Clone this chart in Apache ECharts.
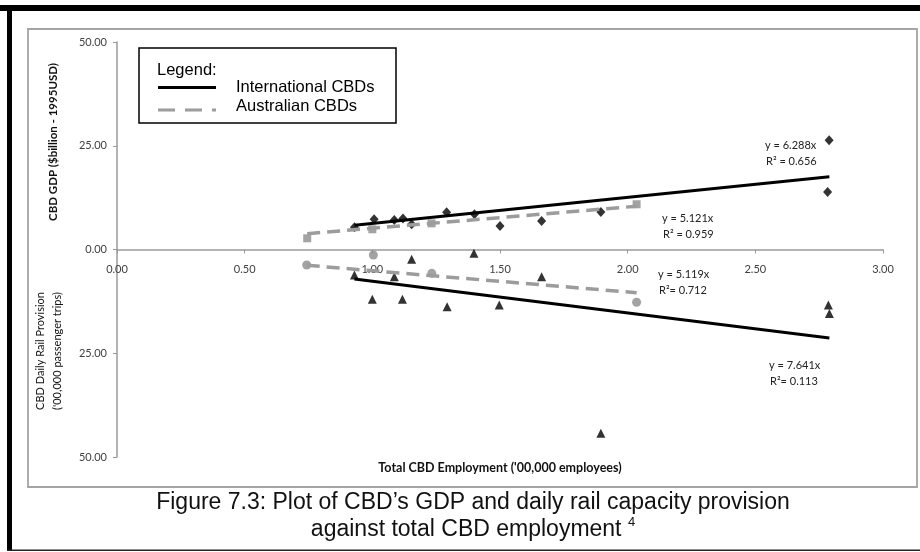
<!DOCTYPE html>
<html><head><meta charset="utf-8">
<script src="https://cdn.jsdelivr.net/npm/echarts@6/dist/echarts.min.js"></script>
<style>html,body{margin:0;padding:0;background:#fff}#c{width:920px;height:552px}</style>
</head><body><div id="c"></div>
<script>
// ---- data ----
const xTicks = [0, 0.5, 1, 1.5, 2, 2.5, 3];
const yTicks = [-50, -25, 0, 25, 50];
// upper half: CBD GDP ($billion), lower half: daily rail provision (plotted downward)
const intlGdp = [[0.93,5.35],[1.007,7.3],[1.086,7.1],[1.12,7.5],[1.154,6.1],[1.291,8.96],[1.40,8.5],[1.50,5.66],[1.663,6.87],[1.895,9.04],[2.789,26.3],[2.783,13.86]];
const ausGdp = [[0.745,2.7],[1.0,4.87],[1.232,6.3],[2.035,10.9]];
const intlRail = [[0.93,-6.14],[1.0,-12.0],[1.086,-6.55],[1.118,-12.0],[1.154,-2.37],[1.293,-13.8],[1.398,-0.9],[1.497,-13.4],[1.663,-6.55],[1.895,-44.3],[2.786,-13.4],[2.79,-15.4]];
const ausRail = [[0.743,-3.73],[1.004,-1.33],[1.233,-5.74],[2.035,-12.7]];
// trend line end points
const intlGdpTrend = [[0.93,5.85],[2.79,17.54]];
const ausGdpTrend = [[0.745,3.82],[2.035,10.42]];
const intlRailTrend = [[0.93,-7.11],[2.79,-21.32]];
const ausRailTrend = [[0.743,-3.80],[2.035,-10.42]];
const trendLabels = [
  ['y = 6.288x', 'R\u00b2 = 0.656'],
  ['y = 5.121x', 'R\u00b2 = 0.959'],
  ['y = 5.119x', 'R\u00b2= 0.712'],
  ['y = 7.641x', 'R\u00b2= 0.113']
];
const legendNames = ['International CBDs', 'Australian CBDs'];

const chart = echarts.init(document.getElementById('c'), null, {renderer:'canvas'});
const SMALL = 'Lato, "Open Sans", sans-serif';
const ARIAL = '"Liberation Sans", Arial, sans-serif';
const gray = '#8c8c8c';
const dashGray = '#9c9c9c';

const GRID_TOP = 42, GRID_BOTTOM = 95, H = 552;
// x axis sits at y = 0 (middle of the -50..50 range)
const plotH = H - GRID_TOP - GRID_BOTTOM;
const xAxisOffset = -plotH / 2;

const annPos = [[765,145],[662,218],[658,274],[769,365]];
const annGraphics = [];
trendLabels.forEach((t,i)=>{
  annGraphics.push({type:'text', x:annPos[i][0], y:annPos[i][1], style:{text:t[0], font:'11px '+SMALL, fill:'#222', verticalAlign:'middle'}});
  annGraphics.push({type:'text', x:annPos[i][0]+1, y:annPos[i][1]+16, style:{text:t[1], font:'11px '+SMALL, fill:'#222', verticalAlign:'middle'}});
});

const option = {
  backgroundColor:'#fff',
  animation:false,
  grid:{left:117, right:37, top:GRID_TOP, bottom:GRID_BOTTOM, containLabel:false},
  xAxis:{
    type:'value', min:xTicks[0], max:xTicks[xTicks.length-1], interval:0.5,
    offset:xAxisOffset,
    axisLine:{onZero:false, lineStyle:{color:'#9a9a9a', width:1.5}},
    axisTick:{show:true, length:4, lineStyle:{color:'#9a9a9a'}},
    splitLine:{show:false},
    axisLabel:{formatter:v=>v.toFixed(2), color:'#404040', fontFamily:SMALL, fontSize:11, margin:14}
  },
  yAxis:{
    type:'value', min:yTicks[0], max:yTicks[yTicks.length-1], interval:25,
    axisLine:{show:true, onZero:false, lineStyle:{color:'#9a9a9a', width:1.5}},
    axisTick:{show:true, length:4, lineStyle:{color:'#9a9a9a'}},
    splitLine:{show:false},
    axisLabel:{formatter:v=>Math.abs(v).toFixed(2), color:'#404040', fontFamily:SMALL, fontSize:11, margin:10}
  },
  series:[
    {type:'scatter', data:intlGdp, symbol:'diamond', symbolSize:[9,10], itemStyle:{color:'#000'}, z:3},
    {type:'scatter', data:ausGdp, symbol:'rect', symbolSize:8, itemStyle:{color:gray}, z:3},
    {type:'scatter', data:intlRail, symbol:'triangle', symbolSize:9, itemStyle:{color:'#000'}, z:3},
    {type:'scatter', data:ausRail, symbol:'circle', symbolSize:9, itemStyle:{color:gray}, z:3},
    {type:'line', data:ausGdpTrend, showSymbol:false, lineStyle:{color:dashGray, width:3.5, type:[13,7]}, z:4},
    {type:'line', data:ausRailTrend, showSymbol:false, lineStyle:{color:dashGray, width:3.5, type:[13,7]}, z:4},
    {type:'line', data:intlGdpTrend, showSymbol:false, lineStyle:{color:'#000', width:3}, z:5},
    {type:'line', data:intlRailTrend, showSymbol:false, lineStyle:{color:'#000', width:3}, z:5}
  ],
  graphic:[
    // outer frame
    {type:'rect', shape:{x:0, y:5, width:920, height:6}, style:{fill:'#000'}, silent:true},
    {type:'rect', shape:{x:7, y:5, width:5, height:546}, style:{fill:'#000'}, silent:true},
    {type:'rect', shape:{x:7, y:549.5, width:913, height:1.5}, style:{fill:'#222'}, silent:true},
    // chart area frame
    {type:'rect', shape:{x:28, y:29, width:889, height:458}, style:{fill:'none', stroke:'#a4a4a4', lineWidth:1.8}, silent:true, z:-1},
    // legend box
    {type:'rect', shape:{x:139, y:48, width:257, height:75}, style:{fill:'#fff', stroke:'#000', lineWidth:1.5}, z:10},
    {type:'text', x:157, y:70, style:{text:'Legend:', font:'16.5px '+ARIAL, fill:'#000', verticalAlign:'middle'}, z:11},
    {type:'line', shape:{x1:158, y1:87.5, x2:216, y2:87.5}, style:{stroke:'#000', lineWidth:3}, z:11},
    {type:'text', x:236, y:87, style:{text:legendNames[0], font:'16.5px '+ARIAL, fill:'#000', verticalAlign:'middle'}, z:11},
    {type:'line', shape:{x1:158, y1:110, x2:216, y2:110}, style:{stroke:dashGray, lineWidth:3, lineDash:[17,10]}, z:11},
    {type:'text', x:236, y:106.5, style:{text:legendNames[1], font:'16.5px '+ARIAL, fill:'#000', verticalAlign:'middle'}, z:11},
    // axis names
    {type:'text', x:53, y:142, rotation:Math.PI/2, style:{text:'CBD GDP ($billion - 1995USD)', font:'bold 11.5px '+SMALL, fill:'#111', align:'center', verticalAlign:'middle'}},
    {type:'text', x:40, y:351, rotation:Math.PI/2, style:{text:'CBD Daily Rail Provision', font:'11px '+SMALL, fill:'#111', align:'center', verticalAlign:'middle'}},
    {type:'text', x:57, y:351, rotation:Math.PI/2, style:{text:"('00,000 passenger trips)", font:'11px '+SMALL, fill:'#111', align:'center', verticalAlign:'middle'}},
    {type:'text', x:500, y:468, style:{text:"Total CBD Employment ('00,000 employees)", font:'bold 12.5px '+SMALL, fill:'#111', align:'center', verticalAlign:'middle'}},
    // caption
    {type:'text', x:473, y:503, style:{text:'Figure 7.3: Plot of CBD\u2019s GDP and daily rail capacity provision', font:'23px '+ARIAL, fill:'#111', align:'center', verticalAlign:'middle'}},
    {type:'text', x:473, y:530, style:{text:'{a|against total CBD employment }{s|4}', align:'center', verticalAlign:'middle',
      rich:{a:{font:'23px '+ARIAL, fill:'#111'}, s:{font:'13px '+ARIAL, fill:'#111', verticalAlign:'top', padding:[0,0,16,0]}}}}
  ].concat(annGraphics)
};
chart.setOption(option);
</script>
</body></html>
